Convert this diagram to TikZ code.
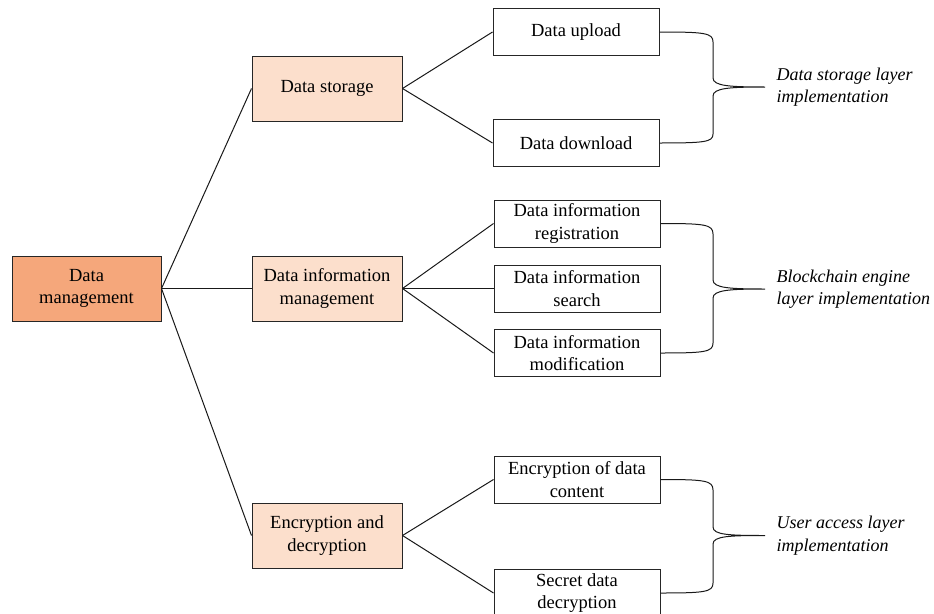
\documentclass[tikz,border=0pt]{standalone}
\usepackage{fontspec}
\setmainfont{Liberation Serif}
\begin{document}
\begin{tikzpicture}[x=1pt,y=-1pt,
  every node/.style={font=\fontsize{18.5}{22.5}\selectfont},
  box/.style={draw=black!85, line width=1pt, align=center, inner sep=0pt},
  rootbox/.style={box, fill=rootfill, minimum width=149pt, minimum height=65pt},
  midbox/.style={box, fill=midfill, minimum width=150pt, minimum height=65pt},
  leafbox/.style={box, fill=white, minimum width=166pt, minimum height=47pt},
  link/.style={draw=black!90, line width=1pt},
  brace/.style={draw=black!90, line width=1pt},
  note/.style={align=left, anchor=west, font=\fontsize{18}{22.5}\selectfont\itshape}]
\definecolor{rootfill}{HTML}{F5A77B}
\definecolor{midfill}{HTML}{FCDFCC}
\useasboundingbox (0,0) rectangle (934,613);

% first and second level
\node[rootbox] (root) at (86.5,288.5) {Data\\management};
\node[midbox] (stor) at (327,88.5) {Data storage};
\node[midbox] (info) at (327,288.5) {Data information\\management};
\node[midbox] (enc) at (327,535.5) {Encryption and\\decryption};

% leaves
\node[leafbox] (up) at (576,32) {Data upload};
\node[leafbox] (down) at (576,143) {Data download};
\node[leafbox] (reg) at (577,223.5) {Data information\\registration};
\node[leafbox] (srch) at (577,288.5) {Data information\\search};
\node[leafbox] (mod) at (577,353) {Data information\\modification};
\node[leafbox] (encc) at (577,479.5) {Encryption of data\\content};
\node[leafbox] (dec) at (577,593) {Secret data\\decryption};

% tree links
\foreach \m in {stor,info,enc} \draw[link] (root.east) -- (\m.west);
\draw[link] (stor.east) -- (up.west);
\draw[link] (stor.east) -- (down.west);
\draw[link] (info.east) -- (reg.west);
\draw[link] (info.east) -- (srch.west);
\draw[link] (info.east) -- (mod.west);
\draw[link] (enc.east) -- (encc.west);
\draw[link] (enc.east) -- (dec.west);

% braces: tips
\coordinate (t1) at (765,87);
\coordinate (t2) at (765,289);
\coordinate (t3) at (765,535.5);

\draw[brace] (up.east) .. controls (705,32) and (713,33) .. (713,42) -- (713,78)
  .. controls (713,86) and (730,87) .. (t1)
  .. controls (730,87) and (713,88) .. (713,96) -- (713,134)
  .. controls (713,142) and (705,143) .. (down.east);
\draw[brace] (reg.east) .. controls (705,223.5) and (713,224.5) .. (713,234) -- (713,280)
  .. controls (713,288) and (730,289) .. (t2)
  .. controls (730,289) and (713,290) .. (713,298) -- (713,343)
  .. controls (713,352) and (705,353) .. (mod.east);
\draw[brace] (encc.east) .. controls (705,479.5) and (713,480.5) .. (713,490) -- (713,527)
  .. controls (713,535) and (730,535.5) .. (t3)
  .. controls (730,535.5) and (713,536) .. (713,544) -- (713,583)
  .. controls (713,592) and (705,593) .. (dec.east);

% brace labels
\node[note] (n1) at (773,87) {Data storage layer\\implementation};
\node[note] (n2) at (773,289) {Blockchain engine\\layer implementation};
\node[note] (n3) at (773,535.5) {User access layer\\implementation};
\end{tikzpicture}
\end{document}
